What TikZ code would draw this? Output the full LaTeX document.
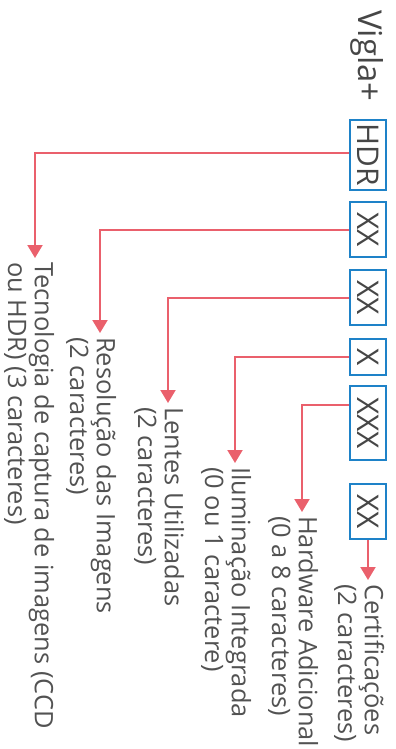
\documentclass[tikz,border=0pt]{standalone}
\usepackage{fontspec}
\setmainfont{Open Sans}
\usetikzlibrary{arrows.meta,calc}
\definecolor{linkred}{RGB}{234,96,108}
\definecolor{boxblue}{RGB}{30,130,200}
\definecolor{inkgray}{RGB}{70,70,70}
\definecolor{descgray}{RGB}{82,82,82}
\begin{document}
\begin{tikzpicture}[x=1bp,y=-1bp,
  codebox/.style={draw=boxblue, line width=2.4bp, rotate=-90, minimum height=36bp,
    inner sep=0pt, font=\fontsize{30}{32}\selectfont, text=inkgray},
  link/.style={draw=linkred, line width=2bp, -{Triangle[width=15bp,length=13bp]}},
  desc/.style={rotate=-90, anchor=base west, align=left, inner sep=0pt,
    font=\fontsize{25.5}{27}\selectfont, text=descgray}]
\useasboundingbox (0,0) rectangle (395,749);

% product name
\node[rotate=-90, anchor=base west, inner sep=0pt,
  font=\fontsize{33}{35}\selectfont, text=inkgray] (title) at (358,10) {Vigla+};

% code fields
\node[codebox, minimum width=70bp] (b1) at (368,155)   {HDR};
\node[codebox, minimum width=55bp] (b2) at (368,229.5) {XX};
\node[codebox, minimum width=55bp] (b3) at (368,297.5) {XX};
\node[codebox, minimum width=36bp] (b4) at (368,357)   {X};
\node[codebox, minimum width=74bp] (b5) at (368,423)   {XXX};
\node[codebox, minimum width=55bp] (b6) at (368,511.5) {XX};

% arrow tips
\coordinate (a1) at (35,258);
\coordinate (a2) at (100,333);
\coordinate (a3) at (168,403);
\coordinate (a4) at (235,463);
\coordinate (a5) at (302,512);
\coordinate (a6) at (368,580);

% connectors
\draw[link] ($(b1.south west)!0.47!(b1.south east)$) -| (a1);
\draw[link] (b2.south) -| (a2);
\draw[link] (b3.south) -| (a3);
\draw[link] (b4.south) -| (a4);
\draw[link] ($(b5.south west)!0.27!(b5.south east)$) -| (a5);
\draw[link] (b6.east) -- (a6);

% field descriptions (base anchor sits on the second line)
\node[desc] (t1) at ($(a1)+(-27,4)$) {Tecnologia de captura de imagens (CCD\\ou HDR) (3 caracteres)};
\node[desc] (t2) at ($(a2)+(-30,4)$) {Resolução das Imagens\\(2 caracteres)};
\node[desc] (t3) at ($(a3)+(-30,4)$) {Lentes Utilizadas\\(2 caracteres)};
\node[desc] (t4) at ($(a4)+(-30,4)$) {Iluminação Integrada\\(0 ou 1 caractere)};
\node[desc] (t5) at ($(a5)+(-30,4)$) {Hardware Adicional\\(0 a 8 caracteres)};
\node[desc] (t6) at ($(a6)+(-30,4)$) {Certificações\\(2 caracteres)};
\end{tikzpicture}
\end{document}
